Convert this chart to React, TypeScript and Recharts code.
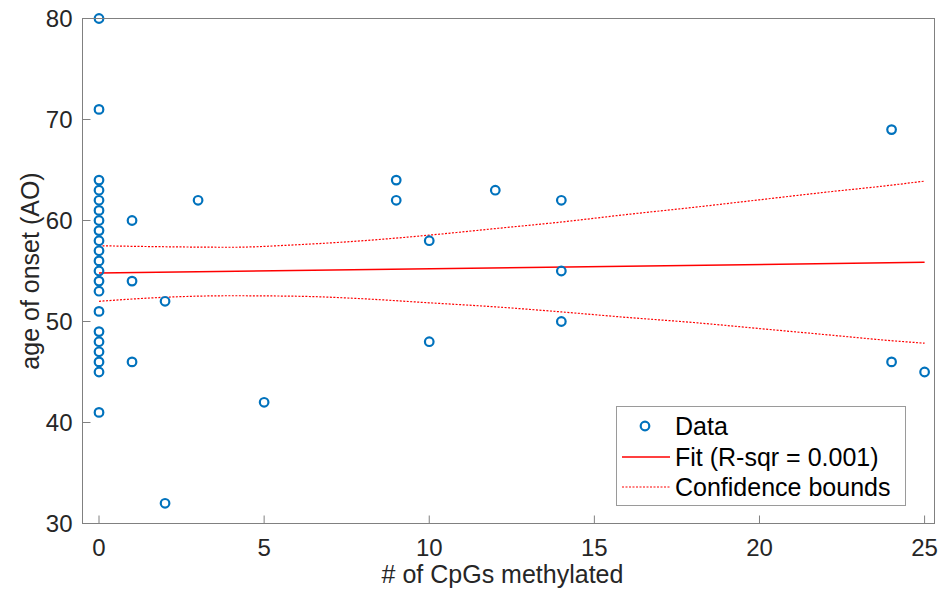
import { ComposedChart, Legend, Line, ReferenceArea, Scatter, XAxis, YAxis } from 'recharts'

// measured points: # of CpGs methylated vs age of onset
const cpgCount = [
  0, 0, 0, 0, 0, 0, 0, 0, 0, 0, 0, 0, 0, 0, 0, 0, 0, 0, 0, 0, 0,
  1, 1, 1, 2, 2, 3, 5, 9, 9, 10, 10, 12, 14, 14, 14, 24, 24, 25,
]
const onsetAge = [
  80, 71, 64, 63, 62, 61, 60, 59, 58, 57, 56, 55, 54, 53, 51, 49, 48, 47, 46, 45, 41,
  60, 54, 46, 52, 32, 62, 42, 64, 62, 58, 48, 63, 62, 55, 50, 69, 46, 45,
]

// fit line and confidence bounds
const fitX = [0, 25]
const fitY = [54.8, 55.86]
const boundX = [0, 2, 4, 6, 8, 10, 12, 14, 16, 18, 20, 22, 24, 25]
const upperBound = [57.5, 57.4, 57.35, 57.6, 58.0, 58.55, 59.2, 59.85, 60.6, 61.3, 62.05, 62.8, 63.5, 63.9]
const lowerBound = [52.0, 52.4, 52.55, 52.5, 52.25, 51.85, 51.45, 50.95, 50.4, 49.9, 49.3, 48.7, 48.1, 47.85]

const xTicks = [0, 5, 10, 15, 20, 25]
const yTicks = [30, 40, 50, 60, 70, 80]
const xDomain = [-0.5, 25.3]
const yDomain = [30, 80]

const points = cpgCount.map((x, i) => ({ x, y: onsetAge[i] }))
const fitData = fitX.map((x, i) => ({ x, y: fitY[i] }))
const upperData = boundX.map((x, i) => ({ x, y: upperBound[i] }))
const lowerData = boundX.map((x, i) => ({ x, y: lowerBound[i] }))

const font = '"Liberation Sans", Arial, Helvetica, sans-serif'
const blue = '#0072BD'
const red = '#ff0000'
const axisColor = '#808080'
const textColor = '#262626'
const axisLine = { stroke: axisColor, strokeWidth: 1 }
const tickLine = { stroke: axisColor, strokeWidth: 1 }

const Ring = (props: any) => (
  <circle cx={props.cx} cy={props.cy} r={4.3} fill="none" stroke={blue} strokeWidth={2.2} />
)

function LegendBox() {
  const row = (top: number, icon: any, text: string) => (
    <div style={{ position: 'absolute', left: 0, top, height: 30, width: '100%' }}>
      <svg width={56} height={30} style={{ position: 'absolute', left: 0, top: 0 }}>
        {icon}
      </svg>
      <span style={{ position: 'absolute', left: 58, top: 0, lineHeight: '30px' }}>{text}</span>
    </div>
  )
  return (
    <div
      style={{
        position: 'relative',
        width: 288,
        height: 98,
        border: '1px solid #9a9a9a',
        background: '#fff',
        fontFamily: font,
        fontSize: 25,
        color: '#000',
        textAlign: 'left',
      }}
    >
      {row(4, <circle cx={28} cy={15} r={4.3} fill="none" stroke={blue} strokeWidth={2.2} />, 'Data')}
      {row(35, <line x1={5} x2={53} y1={15} y2={15} stroke={red} strokeWidth={1.5} />, 'Fit (R-sqr = 0.001)')}
      {row(65, <line x1={5} x2={53} y1={15} y2={15} stroke={red} strokeWidth={1.2} strokeDasharray="2 1.5" />, 'Confidence bounds')}
    </div>
  )
}

export default function App() {
  return (
    <div style={{ position: 'absolute', left: 0, top: 0, width: 942, height: 597 }}>
      <ComposedChart width={942} height={597} margin={{ top: 17.5, right: 6.5, left: 22.5, bottom: 0.5 }}>
        <XAxis
          xAxisId="b"
          dataKey="x"
          type="number"
          domain={xDomain}
          ticks={xTicks}
          height={73}
          axisLine={axisLine}
          tickLine={tickLine}
          tickSize={-8}
          tickMargin={23}
          tick={{ fill: textColor, fontSize: 24, fontFamily: font }}
          label={{ value: '# of CpGs methylated', position: 'center', dx: -6, dy: 14, fill: textColor, fontSize: 25, fontFamily: font }}
        />
        <XAxis
          xAxisId="t"
          orientation="top"
          dataKey="x"
          type="number"
          domain={xDomain}
          allowDataOverflow
          ticks={xTicks}
          height={1}
          axisLine={axisLine}
          tickLine={tickLine}
          tickSize={-8}
          tick={false}
        />
        <YAxis
          yAxisId="l"
          dataKey="y"
          type="number"
          domain={yDomain}
          ticks={yTicks}
          width={60}
          axisLine={axisLine}
          tickLine={tickLine}
          tickSize={-8}
          tickMargin={18}
          tick={{ fill: textColor, fontSize: 24, fontFamily: font }}
          label={{ value: 'age of onset (AO)', angle: -90, position: 'center', dx: -22, fill: textColor, fontSize: 25, fontFamily: font }}
        />
        <YAxis
          yAxisId="r"
          orientation="right"
          dataKey="y"
          type="number"
          domain={yDomain}
          allowDataOverflow
          ticks={yTicks}
          width={1}
          axisLine={axisLine}
          tickLine={tickLine}
          tickSize={-8}
          tick={false}
        />
        <ReferenceArea
          xAxisId="b"
          yAxisId="l"
          x1={xDomain[0]}
          x2={xDomain[1]}
          y1={yDomain[0]}
          y2={yDomain[1]}
          fill="#ffffff"
          fillOpacity={0}
          stroke={axisColor}
          strokeWidth={1}
          strokeOpacity={1}
          ifOverflow="visible"
        />
        <Scatter
          xAxisId="b"
          yAxisId="l"
          data={points}
          dataKey="y"
          shape={Ring}
          isAnimationActive={false}
        />
        <Scatter
          xAxisId="t"
          yAxisId="r"
          data={points}
          dataKey="y"
          shape={() => <g />}
          legendType="none"
          isAnimationActive={false}
        />
        <Line
          xAxisId="b"
          yAxisId="l"
          data={fitData}
          dataKey="y"
          type="linear"
          stroke={red}
          strokeWidth={1.5}
          dot={false}
          activeDot={false}
          isAnimationActive={false}
        />
        <Line
          xAxisId="b"
          yAxisId="l"
          data={upperData}
          dataKey="y"
          type="monotone"
          stroke={red}
          strokeWidth={1.2}
          strokeDasharray="2 1.5"
          dot={false}
          activeDot={false}
          isAnimationActive={false}
        />
        <Line
          xAxisId="b"
          yAxisId="l"
          data={lowerData}
          dataKey="y"
          type="monotone"
          stroke={red}
          strokeWidth={1.2}
          strokeDasharray="2 1.5"
          dot={false}
          activeDot={false}
          isAnimationActive={false}
        />
        <Legend
          layout="vertical"
          align="center"
          verticalAlign="middle"
          content={() => <LegendBox />}
          wrapperStyle={{ left: 616, top: 406, width: 290, height: 100 }}
        />
      </ComposedChart>
      {/* plot frame, in case the box lines come out too faint */}
      <div
        style={{
          position: 'absolute',
          left: 82,
          top: 18,
          width: 853,
          height: 506,
          boxSizing: 'border-box',
          border: `1px solid ${axisColor}`,
          pointerEvents: 'none',
        }}
      />
    </div>
  )
}
